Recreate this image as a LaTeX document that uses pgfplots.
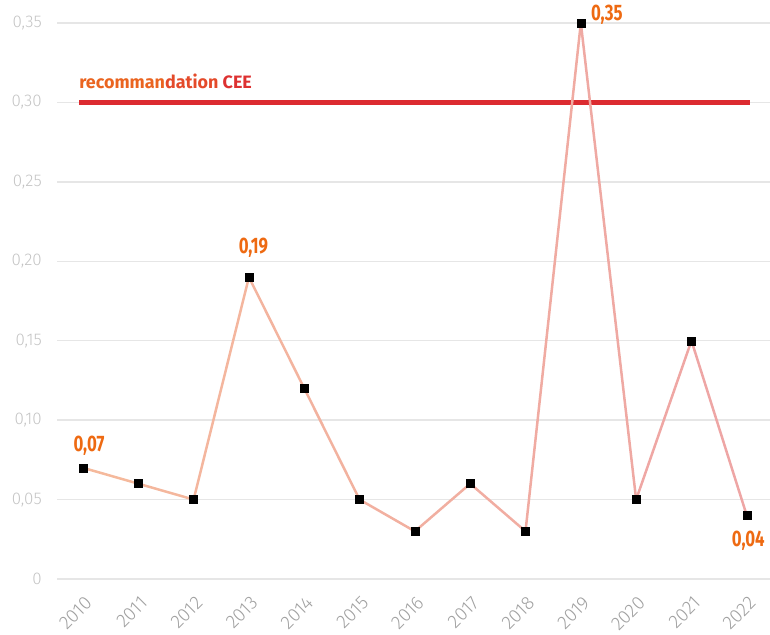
\documentclass[border=0pt]{standalone}
\usepackage{pgfplots}
\pgfplotsset{compat=1.18}
\usepackage{fontspec}
\setmainfont{Fira Sans}
\newfontfamily\lightfont{Fira Sans Light}
\definecolor{gridc}{HTML}{E6E6E6}
\definecolor{ylab}{HTML}{C4C4C4}
\definecolor{xlab}{HTML}{A0A0A0}
\definecolor{annot}{HTML}{EE6A12}
\definecolor{redline}{HTML}{DC2B30}
\definecolor{t1}{HTML}{EA6420}
\definecolor{t2}{HTML}{E44A2A}
\definecolor{t3}{HTML}{DD3131}
\begin{document}
\begin{tikzpicture}
\begin{axis}[
  scale only axis,
  width=713bp, height=556bp,
  xmin=2009.53, xmax=2022.42,
  ymin=0, ymax=0.35,
  axis line style={draw=none},
  tick style={draw=none},
  ymajorgrids,
  major grid style={gridc, line width=1.5bp},
  ytick={0,0.05,0.10,0.15,0.20,0.25,0.30,0.35},
  yticklabels={0,{0,05},{0,10},{0,15},{0,20},{0,25},{0,30},{0,35}},
  yticklabel style={font=\lightfont\fontsize{17}{19}\selectfont, text=ylab, anchor=east, inner sep=0pt, xshift=-15bp},
  xtick={2010,2011,2012,2013,2014,2015,2016,2017,2018,2019,2020,2021,2022},
  xticklabels={2010,2011,2012,2013,2014,2015,2016,2017,2018,2019,2020,2021,2022},
  xticklabel style={font=\lightfont\fontsize{19}{21}\selectfont, text=xlab, inner sep=0pt, xshift=1bp, yshift=-16bp, rotate=45, anchor=north east},
  clip=false,
]
\addplot[redline, line width=5bp] coordinates {(2009.93,0.30) (2022.05,0.30)};
\addplot[mesh, point meta=x, line width=2.5bp, shader=flat,
  colormap={lc}{rgb255=(245,186,156) rgb255=(238,165,165)}] coordinates {
(2010,0.07) (2011,0.06) (2012,0.05) (2013,0.19) (2014,0.12) (2015,0.05) (2016,0.03)
(2017,0.06) (2018,0.03) (2019,0.35) (2020,0.05) (2021,0.15) (2022,0.04)};
\addplot[only marks, mark=square*, mark size=4bp, black] coordinates {
(2010,0.07) (2011,0.06) (2012,0.05) (2013,0.19) (2014,0.12) (2015,0.05) (2016,0.03)
(2017,0.06) (2018,0.03) (2019,0.35) (2020,0.05) (2021,0.15) (2022,0.04)};
\node[anchor=south west, inner sep=0pt, font=\bfseries\fontsize{18}{20}\selectfont] at (axis cs:2009.93,0.30) [yshift=13.5bp] {\textcolor{t1}{recomman}\textcolor{t2}{dation} \textcolor{t3}{CEE}};
\node[text=annot, inner sep=0pt, anchor=south, font=\bfseries\fontsize{22.5}{24}\selectfont] at (axis cs:2010,0.07) [xshift=6bp, yshift=12bp] {\scalebox{0.75}[1]{0,07}};
\node[text=annot, inner sep=0pt, anchor=south, font=\bfseries\fontsize{22.5}{24}\selectfont] at (axis cs:2013,0.19) [xshift=4.5bp, yshift=20bp] {\scalebox{0.75}[1]{0,19}};
\node[text=annot, inner sep=0pt, anchor=west, font=\bfseries\fontsize{22.5}{24}\selectfont] at (axis cs:2019,0.35) [xshift=10bp, yshift=8bp] {\scalebox{0.75}[1]{0,35}};
\node[text=annot, inner sep=0pt, anchor=north, font=\bfseries\fontsize{22.5}{24}\selectfont] at (axis cs:2022,0.04) [xshift=1.5bp, yshift=-15bp] {\scalebox{0.75}[1]{0,04}};
\coordinate (O) at (rel axis cs:0,0);
\end{axis}
\pgfresetboundingbox
\path[use as bounding box] ([shift={(-57bp,-56bp)}]O) rectangle ([shift={(713bp,579bp)}]O);
\end{tikzpicture}
\end{document}
